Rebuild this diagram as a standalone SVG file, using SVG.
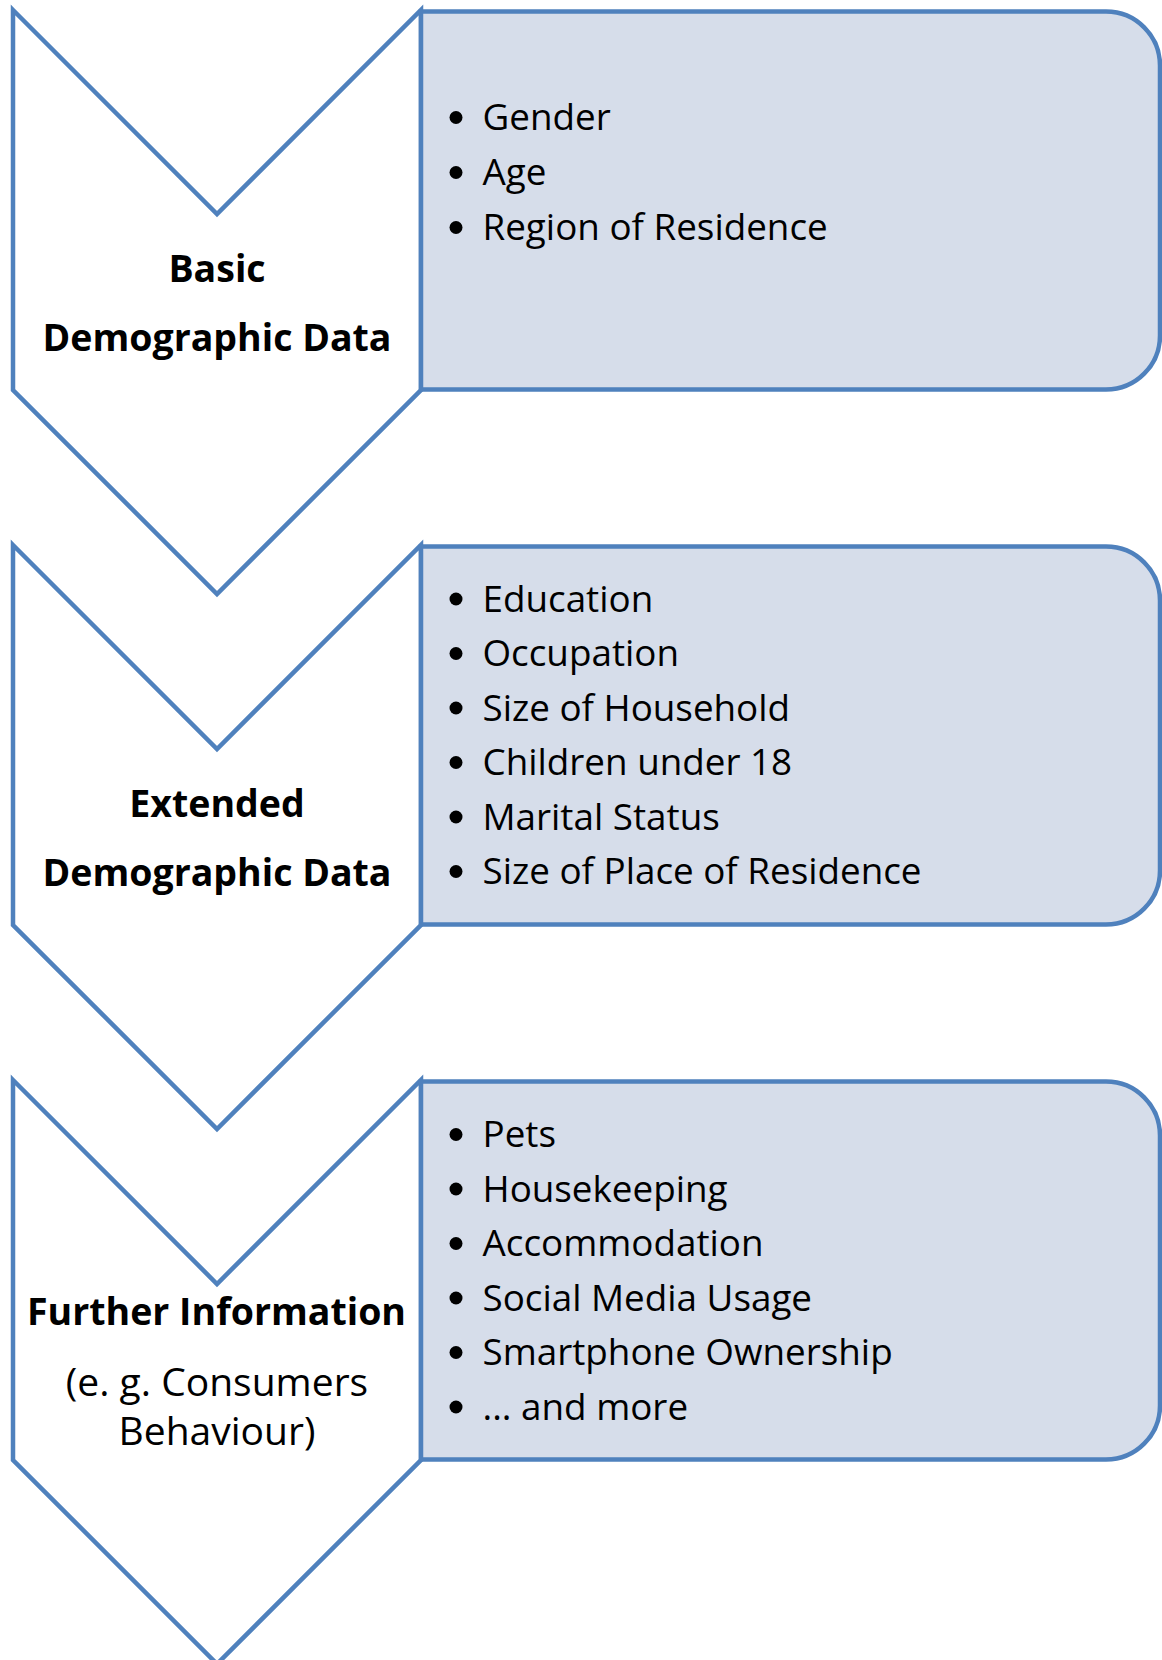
<svg xmlns="http://www.w3.org/2000/svg" width="1162" height="1660" viewBox="0 0 1162 1660">
<style>
.chev{fill:#FFFFFF;stroke:#4F81BD;stroke-width:4.5;stroke-linejoin:miter}
.box{fill:#D6DDEA;stroke:#4F81BD;stroke-width:4.5;stroke-linejoin:miter}
.lbl{font-family:"Open Sans","Liberation Sans",sans-serif;font-weight:700;font-size:37.5px;fill:#000;text-anchor:middle}
.sub{font-family:"Open Sans","Liberation Sans",sans-serif;font-weight:400;font-size:39px;fill:#000;text-anchor:middle}
.item{font-family:"Open Sans","Liberation Sans",sans-serif;font-weight:400;font-size:36.8px;fill:#000}
.dot{fill:#000}
</style>
<rect width="1162" height="1660" fill="#FFFFFF"/>
<g id="connectors"></g>

<g id="chevron-basic">
<polygon class="chev" points="13,10 217,214 421,10 421,390 217,594 13,390"/>
<text class="lbl" x="217" y="282">Basic</text>
<text class="lbl" x="217" y="351">Demographic Data</text>
</g>

<g id="box-basic">
<path class="box" d="M421,11.5 H1106 A54,54 0 0 1 1160,65.5 V335.5 A54,54 0 0 1 1106,389.5 H421 Z"/>
<circle class="dot" cx="456" cy="117.5" r="6.5"/>
<circle class="dot" cx="456" cy="172.5" r="6.5"/>
<circle class="dot" cx="456" cy="227.5" r="6.5"/>
<text class="item" x="482.5" y="130">Gender</text>
<text class="item" x="482.5" y="185">Age</text>
<text class="item" x="482.5" y="240">Region of Residence</text>
</g>

<g id="chevron-extended">
<polygon class="chev" points="13,545 217,749 421,545 421,925 217,1129 13,925"/>
<text class="lbl" x="217" y="817">Extended</text>
<text class="lbl" x="217" y="886">Demographic Data</text>
</g>

<g id="box-extended">
<path class="box" d="M421,546.5 H1106 A54,54 0 0 1 1160,600.5 V870.5 A54,54 0 0 1 1106,924.5 H421 Z"/>
<circle class="dot" cx="456" cy="599" r="6.5"/>
<circle class="dot" cx="456" cy="653.5" r="6.5"/>
<circle class="dot" cx="456" cy="708" r="6.5"/>
<circle class="dot" cx="456" cy="762.5" r="6.5"/>
<circle class="dot" cx="456" cy="817" r="6.5"/>
<circle class="dot" cx="456" cy="871.5" r="6.5"/>
<text class="item" x="482.5" y="611.5">Education</text>
<text class="item" x="482.5" y="666">Occupation</text>
<text class="item" x="482.5" y="720.5">Size of Household</text>
<text class="item" x="482.5" y="775">Children under 18</text>
<text class="item" x="482.5" y="829.5">Marital Status</text>
<text class="item" x="482.5" y="884">Size of Place of Residence</text>
</g>

<g id="chevron-further">
<polygon class="chev" points="13,1080 217,1284 421,1080 421,1460 217,1664 13,1460"/>
<text class="lbl" x="216.5" y="1325">Further Information</text>
<text class="sub" x="217" y="1396">(e. g. Consumers</text>
<text class="sub" x="217" y="1444.5">Behaviour)</text>
</g>

<g id="box-further">
<path class="box" d="M421,1081.5 H1106 A54,54 0 0 1 1160,1135.5 V1405.5 A54,54 0 0 1 1106,1459.5 H421 Z"/>
<circle class="dot" cx="456" cy="1134.5" r="6.5"/>
<circle class="dot" cx="456" cy="1189" r="6.5"/>
<circle class="dot" cx="456" cy="1243.5" r="6.5"/>
<circle class="dot" cx="456" cy="1298" r="6.5"/>
<circle class="dot" cx="456" cy="1352.5" r="6.5"/>
<circle class="dot" cx="456" cy="1407" r="6.5"/>
<text class="item" x="482.5" y="1147">Pets</text>
<text class="item" x="482.5" y="1201.5">Housekeeping</text>
<text class="item" x="482.5" y="1256">Accommodation</text>
<text class="item" x="482.5" y="1310.5">Social Media Usage</text>
<text class="item" x="482.5" y="1365">Smartphone Ownership</text>
<text class="item" x="482.5" y="1419.5">... and more</text>
</g>
</svg>
